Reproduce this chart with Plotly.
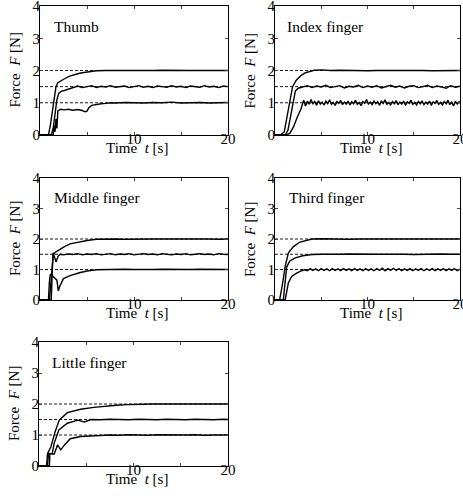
import plotly.graph_objects as go

# ---------------- data (time t [s], force F [N]) ----------------
targets = [1.0, 1.5, 2.0]
panel_names = ["Thumb", "Index finger", "Middle finger", "Third finger", "Little finger"]
x_tick_vals = [0, 5, 10, 15, 20]
x_tick_text = ["", "", "10", "", "20"]
y_tick_vals = [0, 1, 2, 3, 4]

thumb_hi = [(0, 0), (0.9, 0), (1.1, 0.3), (1.4, 0.9), (1.7, 1.5), (1.9, 1.62), (2.3, 1.7), (2.7, 1.76),
            (3.1, 1.82), (3.5, 1.86), (4.0, 1.9), (4.5, 1.93), (5.0, 1.95), (5.5, 1.97), (6.0, 1.99),
            (7, 2.0), (8, 1.99), (9, 2.0), (10, 2.0), (11, 1.99), (12, 2.0), (13, 2.01), (14, 2.0),
            (15, 1.99), (16, 2.0), (17, 2.0), (18, 1.99), (19, 2.0), (20, 2.0)]
thumb_mid = [(0, 0), (1.2, 0), (1.4, 0.2), (1.6, 0.7), (1.8, 1.1), (2.0, 1.3), (2.3, 1.36), (2.6, 1.38),
             (3.0, 1.42), (3.5, 1.47), (4.0, 1.52), (4.5, 1.47), (5.0, 1.5), (5.5, 1.53), (6.0, 1.47),
             (6.5, 1.51), (7.0, 1.49), (7.5, 1.53), (8.0, 1.48), (8.5, 1.5), (9.0, 1.52), (9.5, 1.47),
             (10.0, 1.5), (10.5, 1.53), (11.0, 1.48), (11.5, 1.51), (12.0, 1.47), (12.5, 1.52),
             (13.0, 1.5), (13.5, 1.48), (14.0, 1.53), (14.5, 1.49), (15.0, 1.51), (15.5, 1.47),
             (16.0, 1.52), (16.5, 1.5), (17.0, 1.48), (17.5, 1.53), (18.0, 1.49), (18.5, 1.51),
             (19.0, 1.47), (19.5, 1.52), (20.0, 1.5)]
thumb_lo = [(0, 0), (1.4, 0), (1.5, 0.3), (1.6, 0.1), (1.7, 0.5), (1.8, 0.2), (1.9, 0.75), (2.2, 0.8),
            (2.6, 0.78), (3.0, 0.8), (3.5, 0.77), (4.0, 0.79), (4.5, 0.76), (4.8, 0.72), (5.0, 0.74),
            (5.2, 0.85), (5.5, 0.92), (6.0, 0.95), (6.5, 0.97), (7.0, 0.98), (7.5, 1.0), (8, 0.99),
            (9, 1.01), (10, 1.0), (11, 0.99), (12, 1.01), (13, 1.0), (14, 1.02), (15, 0.99),
            (16, 1.0), (17, 1.01), (18, 0.99), (19, 1.0), (20, 1.01)]

index_hi = [(0, 0), (0.6, 0), (1.0, 0.1), (1.3, 0.6), (1.6, 1.1), (1.9, 1.5), (2.3, 1.7), (2.8, 1.84),
            (3.3, 1.93), (3.8, 1.98), (4.3, 2.01), (5, 2.02), (6, 2.0), (7, 2.01), (8, 2.0), (9, 2.0),
            (10, 1.99), (11, 2.0), (12, 2.01), (13, 2.0), (14, 2.0), (15, 2.01), (16, 2.0),
            (17, 1.99), (18, 2.0), (19, 2.0), (20, 2.0)]
index_mid = [(0, 0), (1.1, 0), (1.4, 0.15), (1.7, 0.6), (2.0, 1.1), (2.2, 1.36), (2.5, 1.45), (3.0, 1.48),
             (3.5, 1.53), (4.0, 1.47), (4.5, 1.52), (5.0, 1.49), (5.5, 1.54), (6.0, 1.47), (6.5, 1.51),
             (7.0, 1.53), (7.5, 1.46), (8.0, 1.51), (8.5, 1.49), (9.0, 1.54), (9.5, 1.47), (10.0, 1.52),
             (10.5, 1.48), (11.0, 1.53), (11.5, 1.46), (12.0, 1.51), (12.5, 1.54), (13.0, 1.48),
             (13.5, 1.52), (14.0, 1.46), (14.5, 1.51), (15.0, 1.53), (15.5, 1.47), (16.0, 1.5),
             (16.5, 1.54), (17.0, 1.47), (17.5, 1.52), (18.0, 1.49), (18.5, 1.45), (19.0, 1.53),
             (19.5, 1.48), (20.0, 1.51)]
index_lo = [(0, 0), (1.2, 0), (1.6, 0.05), (2.0, 0.25), (2.4, 0.55), (2.8, 0.8), (3.1, 1.08), (3.3, 0.9),
            (3.5, 1.05), (3.7, 0.95), (3.9, 1.1), (4.1, 0.97), (4.3, 1.04), (4.5, 0.92), (4.7, 1.06),
            (4.9, 0.96), (5.1, 1.02), (5.3, 0.93), (5.5, 1.05), (5.7, 0.97), (5.9, 1.09), (6.1, 0.95),
            (6.3, 1.01), (6.5, 0.92), (6.7, 1.04), (6.9, 0.98), (7.1, 1.07), (7.3, 0.94), (7.5, 1.02),
            (7.7, 0.96), (7.9, 1.05), (8.1, 0.93), (8.3, 1.03), (8.5, 0.97), (8.7, 1.08), (8.9, 0.95),
            (9.1, 1.01), (9.3, 0.91), (9.5, 1.04), (9.7, 0.98), (9.9, 1.1), (10.1, 0.96), (10.3, 1.02),
            (10.5, 0.94), (10.7, 1.05), (10.9, 0.97), (11.1, 1.03), (11.3, 0.92), (11.5, 1.06),
            (11.7, 0.98), (11.9, 1.09), (12.1, 0.95), (12.3, 1.01), (12.5, 0.93), (12.7, 1.04),
            (12.9, 0.97), (13.1, 1.07), (13.3, 0.94), (13.5, 1.02), (13.7, 0.96), (13.9, 1.05),
            (14.1, 0.92), (14.3, 1.03), (14.5, 0.98), (14.7, 1.08), (14.9, 0.95), (15.1, 1.01),
            (15.3, 0.93), (15.5, 1.04), (15.7, 0.97), (15.9, 1.06), (16.1, 0.94), (16.3, 1.02),
            (16.5, 0.96), (16.7, 1.05), (16.9, 0.92), (17.1, 1.03), (17.3, 0.98), (17.5, 1.07),
            (17.7, 0.95), (17.9, 1.01), (18.1, 0.93), (18.3, 1.04), (18.5, 0.97), (18.7, 1.08),
            (18.9, 0.94), (19.1, 1.02), (19.3, 0.9), (19.5, 1.05), (19.7, 0.96), (19.9, 1.03),
            (20.0, 0.98)]

middle_hi = [(0, 0), (1.0, 0), (1.2, 0.7), (1.4, 1.5), (1.7, 1.58), (2.1, 1.66), (2.6, 1.75),
             (3.2, 1.84), (4.0, 1.9), (5.0, 1.95), (6.0, 1.99), (7, 2.0), (8, 2.0), (9, 1.99),
             (10, 2.0), (11, 2.01), (12, 2.0), (13, 2.0), (14, 1.99), (15, 2.0), (16, 2.0),
             (17, 2.01), (18, 2.0), (19, 1.99), (20, 2.0)]
middle_mid = [(0, 0), (1.2, 0), (1.3, 0.9), (1.4, 1.55), (1.55, 1.4), (1.7, 1.25), (1.95, 1.45),
              (2.2, 1.5), (2.5, 1.48), (3.0, 1.51), (3.5, 1.49), (4.0, 1.52), (4.5, 1.48), (5.0, 1.51),
              (5.5, 1.49), (6.0, 1.52), (6.5, 1.48), (7.0, 1.5), (7.5, 1.52), (8.0, 1.48), (8.5, 1.51),
              (9.0, 1.49), (9.5, 1.52), (10.0, 1.48), (10.5, 1.5), (11.0, 1.52), (11.5, 1.49),
              (12.0, 1.51), (12.5, 1.48), (13.0, 1.52), (13.5, 1.5), (14.0, 1.48), (14.5, 1.51),
              (15.0, 1.49), (15.5, 1.52), (16.0, 1.48), (16.5, 1.5), (17.0, 1.52), (17.5, 1.49),
              (18.0, 1.51), (18.5, 1.48), (19.0, 1.52), (19.5, 1.5), (20.0, 1.49)]
middle_lo = [(0, 0), (0.9, 0), (1.0, 0.6), (1.1, 0.85), (1.3, 0.8), (1.5, 0.75), (1.8, 0.65),
             (1.95, 0.3), (2.1, 0.45), (2.5, 0.7), (3.2, 0.8), (4.3, 0.9), (5.0, 0.95), (6.0, 0.99),
             (7, 1.0), (8, 0.99), (9, 1.01), (10, 1.0), (11, 0.99), (12, 1.0), (13, 1.01), (14, 1.0),
             (15, 0.99), (16, 1.0), (17, 1.01), (18, 1.0), (19, 0.99), (20, 1.0)]

third_hi = [(0, 0), (0.5, 0), (0.8, 0.5), (1.1, 1.1), (1.45, 1.55), (2.0, 1.75), (2.7, 1.9),
            (3.4, 1.96), (4.0, 2.0), (5, 2.01), (6, 2.0), (7, 2.0), (8, 1.99), (9, 2.0), (10, 2.0),
            (11, 2.01), (12, 2.0), (13, 2.0), (14, 1.99), (15, 2.0), (16, 2.0), (17, 2.01),
            (18, 2.0), (19, 2.0), (20, 2.0)]
third_mid = [(0, 0), (0.9, 0), (1.1, 0.6), (1.26, 1.08), (1.6, 1.28), (2.2, 1.38), (3.0, 1.45),
             (4.0, 1.49), (5, 1.5), (6, 1.49), (7, 1.5), (8, 1.51), (9, 1.5), (10, 1.49), (11, 1.5),
             (12, 1.5), (13, 1.51), (14, 1.5), (15, 1.49), (16, 1.5), (17, 1.5), (18, 1.51),
             (19, 1.5), (20, 1.5)]
third_lo = [(0, 0), (1.1, 0), (1.45, 0.57), (1.8, 0.77), (2.3, 0.87), (2.7, 0.94), (3.2, 0.99),
            (3.5, 0.96), (3.8, 1.03), (4.1, 0.97), (4.4, 1.02), (4.7, 0.96), (5.0, 1.03), (5.3, 0.97),
            (5.6, 1.02), (5.9, 0.96), (6.2, 1.03), (6.5, 0.97), (6.8, 1.02), (7.1, 0.96), (7.4, 1.03),
            (7.7, 0.97), (8.0, 1.02), (8.3, 0.96), (8.6, 1.03), (8.9, 0.97), (9.2, 1.02), (9.5, 0.96),
            (9.8, 1.03), (10.1, 0.97), (10.4, 1.02), (10.7, 0.96), (11.0, 1.03), (11.3, 0.97),
            (11.6, 1.04), (11.9, 0.96), (12.2, 1.03), (12.5, 0.97), (12.8, 1.04), (13.1, 0.97),
            (13.4, 1.03), (13.7, 0.96), (14.0, 1.02), (14.3, 0.97), (14.6, 1.03), (14.9, 0.96),
            (15.2, 1.02), (15.5, 0.97), (15.8, 1.03), (16.1, 0.96), (16.4, 1.02), (16.7, 0.97),
            (17.0, 1.03), (17.3, 0.96), (17.6, 1.02), (17.9, 0.97), (18.2, 1.03), (18.5, 0.96),
            (18.8, 1.02), (19.1, 0.97), (19.4, 1.03), (19.7, 0.96), (20.0, 1.01)]

little_hi = [(0, 0), (0.8, 0), (0.9, 0.4), (1.26, 0.62), (1.7, 1.1), (2.14, 1.48), (3.0, 1.72),
             (4.4, 1.83), (5.8, 1.89), (7.2, 1.94), (8.2, 1.96), (9.3, 1.98), (10.5, 2.0), (11, 1.99),
             (12, 2.0), (13, 2.01), (14, 2.0), (15, 2.0), (16, 1.99), (17, 2.0), (18, 2.0),
             (19, 2.01), (20, 2.0)]
little_mid = [(0, 0), (0.9, 0), (1.0, 0.4), (1.4, 0.4), (1.6, 0.73), (2.1, 1.16), (3.0, 1.38),
              (4.1, 1.48), (4.8, 1.42), (5.5, 1.5), (6.5, 1.49), (7.5, 1.51), (8.5, 1.5), (9.5, 1.49),
              (10.5, 1.51), (11.5, 1.5), (12.5, 1.49), (13.5, 1.51), (14.5, 1.5), (15.5, 1.49),
              (16.5, 1.51), (17.5, 1.5), (18.5, 1.49), (19.5, 1.51), (20.0, 1.5)]
little_lo = [(0, 0), (1.1, 0), (1.15, 0.4), (1.6, 0.38), (1.96, 0.68), (2.3, 0.52), (2.7, 0.68),
             (3.3, 0.88), (4.4, 0.95), (5.5, 0.97), (6.5, 0.99), (7.5, 1.0), (8.5, 0.99), (9.5, 1.01),
             (10.5, 1.0), (11.5, 0.99), (12.5, 1.01), (13.5, 1.0), (14.5, 0.99), (15.5, 1.0),
             (16.5, 1.01), (17.5, 0.99), (18.5, 1.0), (19.5, 1.01), (20.0, 1.0)]

curves = [
    [thumb_hi, thumb_mid, thumb_lo],
    [index_hi, index_mid, index_lo],
    [middle_hi, middle_mid, middle_lo],
    [third_hi, third_mid, third_lo],
    [little_hi, little_mid, little_lo],
]

# ---------------- layout geometry (pixels) ----------------
W, H = 463, 498
# (left, right, top, bottom) pixel boxes of each plot area
boxes = [(40, 228, 6, 135), (275, 460, 6, 135),
         (40, 228, 178, 300), (275, 460, 178, 300),
         (39, 228, 342, 466)]
title_pos = [(1.3, 3.35), (1.1, 3.35), (1.3, 3.35), (1.3, 3.35), (1.2, 3.35)]

FONT = "Liberation Serif, Times New Roman, serif"


def px(x):
    return x / W


def py(y):
    return 1 - y / H


fig = go.Figure()
layout = dict(template="none", width=W, height=H, margin=dict(l=0, r=0, t=0, b=0, pad=0),
              paper_bgcolor="white", plot_bgcolor="white", showlegend=False,
              font=dict(family=FONT, size=15, color="black"))
annotations = []

for i, (name, group, box) in enumerate(zip(panel_names, curves, boxes)):
    n = i + 1
    xa = "x" if n == 1 else f"x{n}"
    ya = "y" if n == 1 else f"y{n}"
    l, r, t, b = box
    # dashed target lines
    for tv in targets:
        fig.add_trace(go.Scatter(x=[0, 20], y=[tv, tv], mode="lines", xaxis=xa, yaxis=ya,
                                 line=dict(color="black", width=0.9, dash="3px,2px"),
                                 hoverinfo="skip"))
    for c in group:
        fig.add_trace(go.Scatter(x=[p[0] for p in c], y=[p[1] for p in c], mode="lines",
                                 xaxis=xa, yaxis=ya, line=dict(color="black", width=1.4)))
    axkey = "xaxis" if n == 1 else f"xaxis{n}"
    aykey = "yaxis" if n == 1 else f"yaxis{n}"
    layout[axkey] = dict(domain=[px(l), px(r)], anchor=ya, range=[0, 20], automargin=False,
                         tickvals=x_tick_vals, ticktext=x_tick_text, ticks="inside", ticklen=3,
                         showline=True, linecolor="black", linewidth=1, mirror="ticks",
                         showgrid=False, zeroline=False, ticklabelstandoff=-10,
                         ticklabeloverflow="allow",
                         tickfont=dict(family=FONT, size=15))
    layout[aykey] = dict(domain=[py(b), py(t)], anchor=xa, range=[0, 4], automargin=False,
                         tickvals=y_tick_vals, ticks="inside", ticklen=3,
                         showline=True, linecolor="black", linewidth=1, mirror="ticks",
                         showgrid=False, zeroline=False, ticklabelstandoff=-4,
                         ticklabeloverflow="allow",
                         tickfont=dict(family=FONT, size=15))
    # panel title
    annotations.append(dict(x=title_pos[i][0], y=title_pos[i][1], xref=xa, yref=ya,
                            text=name, showarrow=False, xanchor="left", yanchor="middle",
                            font=dict(family=FONT, size=15.5)))
    # axis titles
    annotations.append(dict(x=px((l + r) / 2 + 3), y=py(b + 13), xref="paper", yref="paper",
                            text="Time  <i>t</i> [s]", showarrow=False, xanchor="center",
                            yanchor="middle", font=dict(family=FONT, size=15)))
    annotations.append(dict(x=px(l - 25), y=py((t + b) / 2), xref="paper", yref="paper",
                            text="Force  <i>F</i> [N]", showarrow=False, textangle=-90,
                            xanchor="center", yanchor="middle", font=dict(family=FONT, size=15)))

layout["annotations"] = annotations
fig.update_layout(**layout)
fig.write_html("out.html", config={"displayModeBar": False},
               post_script="document.body.style.margin='0';")
